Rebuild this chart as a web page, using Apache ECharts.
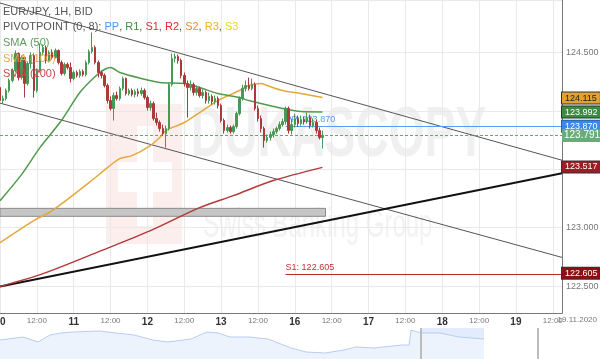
<!DOCTYPE html>
<html><head><meta charset="utf-8">
<script src="https://cdn.jsdelivr.net/npm/echarts@6/dist/echarts.min.js"></script>
<style>html,body{margin:0;padding:0;background:#fff}#c{width:600px;height:359px}</style>
</head><body><div id="c"></div>
<script>
// ---- tick labels ----
const DAYS = ['10','11','12','13','16','17','18','19'];
const HALF_DAY_LABEL = '12:00';
const DATE_LABEL = '19.11.2020';
const HOURS_SHOWN = 184;

// ---- hourly candles (EUR/JPY 1H) ----
const OPEN = [124.201,124.089,124.106,124.175,124.261,124.346,124.492,124.286,124.458,124.235,
 124.406,124.475,124.175,124.346,124.501,124.544,124.432,124.501,124.458,124.518,
 124.415,124.321,124.398,124.372,124.278,124.329,124.304,124.338,124.312,124.415,
 124.509,124.544,124.415,124.329,124.304,124.218,124.089,124.021,124.132,124.106,
 124.192,124.278,124.149,124.175,124.141,124.166,124.149,124.175,124.115,124.029,
 124.063,123.935,123.901,123.849,123.806,123.849,124.226,124.449,124.466,124.432,
 124.304,124.235,124.201,124.226,124.158,124.192,124.132,124.158,124.089,124.124,
 124.081,124.106,124.046,123.918,123.832,123.858,123.823,123.866,123.978,124.106,
 124.192,124.218,124.192,124.226,124.021,123.935,123.849,123.746,123.772,123.798,
 123.823,123.849,123.883,123.909,124.021,123.832,123.883,123.935,123.892,123.926,
 123.909,123.943,123.875,123.901,123.832,123.772];
const CLOSE = [124.089,124.106,124.175,124.261,124.346,124.492,124.286,124.458,124.235,124.406,
 124.475,124.175,124.346,124.501,124.544,124.432,124.501,124.458,124.518,124.415,
 124.321,124.398,124.372,124.278,124.329,124.304,124.338,124.312,124.415,124.509,
 124.544,124.415,124.329,124.304,124.218,124.089,124.021,124.132,124.106,124.192,
 124.278,124.149,124.175,124.141,124.166,124.149,124.175,124.115,124.029,124.063,
 123.935,123.901,123.849,123.806,123.849,124.226,124.449,124.466,124.432,124.304,
 124.235,124.201,124.226,124.158,124.192,124.132,124.158,124.089,124.124,124.081,
 124.106,124.046,123.918,123.832,123.858,123.823,123.866,123.978,124.106,124.192,
 124.218,124.192,124.226,124.021,123.935,123.849,123.746,123.772,123.798,123.823,
 123.849,123.883,123.909,124.021,123.832,123.883,123.935,123.892,123.926,123.909,
 123.943,123.875,123.901,123.832,123.772,123.791];
const LOW = [124.029,124.063,124.089,124.158,124.244,124.329,124.261,124.269,124.115,124.218,
 124.364,124.115,124.158,124.329,124.475,124.406,124.415,124.441,124.449,124.398,
 124.304,124.304,124.355,124.244,124.261,124.286,124.286,124.295,124.295,124.398,
 124.492,124.398,124.286,124.278,124.201,124.063,124.003,123.918,124.089,124.089,
 124.175,124.132,124.132,124.124,124.115,124.124,124.132,124.098,124.003,124.003,
 123.918,123.875,123.823,123.789,123.686,123.832,124.209,124.415,124.406,124.278,
 124.209,123.943,124.175,124.132,124.132,124.115,124.106,124.063,124.063,124.055,
 124.055,124.021,123.901,123.806,123.815,123.806,123.806,123.849,123.961,124.089,
 124.166,124.175,124.175,124.003,123.909,123.815,123.686,123.729,123.746,123.772,
 123.806,123.832,123.866,123.883,123.806,123.798,123.858,123.866,123.875,123.883,
 123.892,123.849,123.858,123.806,123.755,123.678];
const HIGH = [124.218,124.132,124.192,124.278,124.364,124.518,124.501,124.475,124.466,124.424,
 124.501,124.492,124.364,124.578,124.569,124.561,124.518,124.527,124.535,124.527,
 124.432,124.415,124.415,124.415,124.346,124.346,124.355,124.355,124.432,124.527,
 124.672,124.561,124.432,124.346,124.321,124.235,124.124,124.158,124.166,124.209,
 124.295,124.286,124.192,124.192,124.184,124.192,124.201,124.192,124.132,124.089,
 124.081,123.986,123.918,123.883,123.875,124.244,124.492,124.492,124.484,124.449,
 124.329,124.261,124.261,124.244,124.218,124.209,124.184,124.175,124.158,124.141,
 124.132,124.124,124.063,123.935,123.883,123.875,123.883,123.995,124.124,124.226,
 124.261,124.286,124.278,124.244,124.046,123.961,123.866,123.798,123.823,123.849,
 123.866,123.909,123.935,124.038,124.038,123.935,123.978,123.961,123.961,123.952,
 123.986,123.969,123.935,123.926,123.858,123.832];

// ---- moving averages (hour index, value) ----
const SMA50_H = [0,7,13,20,26,31,34,36,39,46,52,60,65,71,78,81,92,98,105];
const SMA50_V = [123.232,123.455,123.686,123.918,124.158,124.295,124.355,124.372,124.329,124.278,124.244,124.235,124.201,124.149,124.115,124.089,124.021,123.995,123.992];
const SMA100_H = [0,11,17,29,35,39,43,49,52,54,60,65,71,78,81,85,87,92,98,105];
const SMA100_V = [122.872,123.061,123.146,123.386,123.515,123.592,123.618,123.704,123.772,123.832,123.901,123.986,124.089,124.175,124.218,124.235,124.218,124.175,124.149,124.115];
const SMA200_H = [0,14,33,49,65,76,89,105];
const SMA200_V = [122.497,122.607,122.804,122.975,123.172,123.275,123.404,123.517];

// ---- drawn trend lines (hour index, value) ----
const CHANNEL_TOP = [[0,124.924],[183,123.578]];
const CHANNEL_BOTTOM = [[0,124.067],[183,122.746]];
const SUPPORT_TREND = [[0,122.497],[183,123.466]];
const ZONE = {from: 0, to: 106, high: 123.166, low: 123.098};

// ---- pivot levels & price badges ----
const PIVOT_START = 93;
const PP = 123.870, S1 = 122.605;
const LAST_PRICE = 123.791;
const SMA50_LAST = 123.992, SMA100_LAST = 124.115, SMA200_LAST = 123.517;

// ---- navigator (relative level over time) ----
const NAV_T = [0,23,38,50,61,73,100,107,134,153,168,191,207,218,230,249,268,291,306,325,344,356,375,383,402,409,411,421,440,459,484];
const NAV_V = [19,22,17,24,26,27,28,27,24,19,17,20,27,26,22,22,20,11,7,6,9,12,11,12,14,14,29,26,26,22,20];
const NAV_WINDOW = [421, 484];
const NAV_HANDLES = [421, 538];

// build categories
const cats = [];
for (let i = 0; i < HOURS_SHOWN; i++) {
  const d = DAYS[Math.floor(i / 24)], h = i % 24;
  cats.push(d + ' ' + String(h).padStart(2,'0') + ':00');
}
const candles = OPEN.map((o, i) => [o, CLOSE[i], LOW[i], HIGH[i]]);
const pairs = (h, v) => h.map((x, i) => [x, v[i]]);
const FONT = 'Liberation Sans';

const badge = (v, bg, fg, border, size) => ({
  yAxis: v,
  lineStyle: {width: 0, color: 'transparent'},
  label: {show: true, position: 'end', distance: 0, formatter: v.toFixed(3),
    backgroundColor: bg, color: fg, borderColor: border || bg, borderWidth: border ? 1 : 0,
    padding: size ? [1, 1, 0, 2] : [1, 3, 0, 3], fontSize: size || 9, fontFamily: FONT, lineHeight: size ? 12 : 10}
});

const chart = echarts.init(document.getElementById('c'), null, {renderer: 'canvas'});
chart.setOption({
  animation: false,
  backgroundColor: '#fff',
  grid: [
    {left: 0, top: 0, width: 562, height: 313, show: false, containLabel: false, outerBoundsMode: 'none'},
    {left: 0, top: 328, width: 600, height: 31, show: false, containLabel: false, outerBoundsMode: 'none'}
  ],
  xAxis: [{
    type: 'category', data: cats, boundaryGap: false, gridIndex: 0,
    axisLine: {show: true, lineStyle: {color: '#777', width: 1}},
    axisTick: {show: false},
    splitLine: {show: true, interval: (i) => i % 12 === 0, lineStyle: {color: '#e9e9e9', width: 1}},
    axisLabel: {
      interval: (i) => i % 12 === 0, margin: 4, fontFamily: FONT, hideOverlap: false,
      formatter: (v) => { const p = v.split(' '); return p[1] === '00:00' ? '{d|' + p[0] + '}' : '{h|' + HALF_DAY_LABEL + '}'; },
      rich: {d: {fontSize: 10, fontWeight: 'bold', color: '#333', fontFamily: FONT},
             h: {fontSize: 8, color: '#777', fontFamily: FONT}}
    }
  }, {
    type: 'value', gridIndex: 1, min: 0, max: 600, show: false
  }],
  yAxis: [{
    type: 'value', position: 'right', gridIndex: 0, min: 122.27, max: 124.95, splitNumber: 5,
    axisLine: {show: true, lineStyle: {color: '#777'}},
    axisTick: {show: false},
    splitLine: {show: true, lineStyle: {color: '#e9e9e9'}},
    axisLabel: {showMinLabel: false, showMaxLabel: false, margin: 4, fontSize: 9, color: '#777', fontFamily: FONT,
      formatter: (v) => v.toFixed(3)}
  }, {
    type: 'value', gridIndex: 1, min: 0, max: 31, show: false
  }],
  graphic: [
    {type: 'rect', z: 0, silent: true, shape: {x: 106, y: 104, width: 76, height: 140}, style: {fill: '#fdeeee'}},
    {type: 'rect', z: 0, silent: true, shape: {x: 137, y: 126, width: 16, height: 100}, style: {fill: '#ffffff'}},
    {type: 'rect', z: 0, silent: true, shape: {x: 118, y: 162, width: 54, height: 30}, style: {fill: '#ffffff'}},
    {type: 'text', z: 0, silent: true, x: 191, y: 172, scaleX: 0.66,
      style: {text: 'DUKASCOPY', font: 'bold 70px "Liberation Sans"', fill: '#f0f0f0', textVerticalAlign: 'bottom'}},
    {type: 'text', z: 0, silent: true, x: 203, y: 246, scaleX: 0.6,
      style: {text: 'Swiss Banking Group', font: '40px "Liberation Sans"', fill: '#f2f2f2', textVerticalAlign: 'bottom'}},
    {type: 'text', z: 50, left: 3, top: 6, style: {text: 'EUR/JPY, 1H, BID', font: '11px "Liberation Sans"', fill: '#555'}},
    {type: 'text', z: 50, left: 3, top: 21, style: {
      text: '{g|PIVOTPOINT (0, 8): }{pp|PP}{g|, }{r1|R1}{g|, }{s1|S1}{g|, }{r2|R2}{g|, }{s2|S2}{g|, }{r3|R3}{g|, }{s3|S3}',
      font: '11px "Liberation Sans"',
      rich: {g: {fill: '#555', fontSize: 11, fontFamily: FONT}, pp: {fill: '#4f95f5', fontSize: 11, fontFamily: FONT},
        r1: {fill: '#3f8f3f', fontSize: 11, fontFamily: FONT}, s1: {fill: '#cc3333', fontSize: 11, fontFamily: FONT},
        r2: {fill: '#e02828', fontSize: 11, fontFamily: FONT}, s2: {fill: '#f08a30', fontSize: 11, fontFamily: FONT},
        r3: {fill: '#f0b020', fontSize: 11, fontFamily: FONT}, s3: {fill: '#e8d820', fontSize: 11, fontFamily: FONT}}}},
    {type: 'text', z: 50, left: 3, top: 37, style: {text: 'SMA (50)', font: '11px "Liberation Sans"', fill: '#5a9e5a'}},
    {type: 'text', z: 50, left: 3, top: 53, style: {text: 'SMA (100)', font: '11px "Liberation Sans"', fill: '#e4aa45'}},
    {type: 'text', z: 50, left: 3, top: 68, style: {text: 'SMA (200)', font: '11px "Liberation Sans"', fill: '#c24a4a'}},
    {type: 'text', z: 50, right: 3, top: 316, style: {text: DATE_LABEL, font: '8px "Liberation Sans"', fill: '#777'}}
  ],
  series: [
    {
      type: 'line', xAxisIndex: 0, yAxisIndex: 0, data: [[ZONE.from, ZONE.high], [ZONE.to, ZONE.high]],
      symbol: 'none', lineStyle: {width: 0}, silent: true, z: 1,
      markArea: {silent: true, itemStyle: {color: '#c6c6c6', borderColor: '#8a8a8a', borderWidth: 1},
        data: [[{coord: [ZONE.from, ZONE.high]}, {coord: [ZONE.to, ZONE.low]}]]}
    },
    {type: 'line', data: CHANNEL_TOP, symbol: 'none', silent: true, lineStyle: {color: '#555', width: 1}, z: 3},
    {type: 'line', data: CHANNEL_BOTTOM, symbol: 'none', silent: true, lineStyle: {color: '#555', width: 1}, z: 3},
    {type: 'line', data: SUPPORT_TREND, symbol: 'none', silent: true, lineStyle: {color: '#111', width: 2}, z: 3},
    {type: 'line', data: pairs(SMA200_H, SMA200_V), symbol: 'none', smooth: 0.3, silent: true, lineStyle: {color: '#b33a3a', width: 1.5}, z: 4},
    {type: 'line', data: pairs(SMA100_H, SMA100_V), symbol: 'none', smooth: 0.3, silent: true, lineStyle: {color: '#e6a73a', width: 1.5}, z: 4},
    {type: 'line', data: pairs(SMA50_H, SMA50_V), symbol: 'none', smooth: 0.3, silent: true, lineStyle: {color: '#4f9a4f', width: 1.5}, z: 4},
    {
      type: 'candlestick', data: candles, barWidth: 2, z: 5,
      itemStyle: {color: '#469a55', color0: '#ad3a3a', borderColor: '#469a55', borderColor0: '#ad3a3a', borderWidth: 1},
      markLine: {
        symbol: 'none', silent: true, animation: false,
        data: [
          [{coord: [0, LAST_PRICE], lineStyle: {color: '#5aae6a', type: [3, 2], width: 1}, label: {show: false}}, {coord: [HOURS_SHOWN - 1, LAST_PRICE]}],
          [{coord: [PIVOT_START, PP], lineStyle: {color: '#5b9bf5', type: 'solid', width: 1},
            label: {show: true, position: 'insideStartTop', distance: [0, 2], formatter: 'PP: ' + PP.toFixed(3), color: '#5b9bf5', fontSize: 9, fontFamily: FONT}},
           {coord: [HOURS_SHOWN - 1, PP]}],
          [{coord: [PIVOT_START, S1], lineStyle: {color: '#b02a2a', type: 'solid', width: 1},
            label: {show: true, position: 'insideStartTop', distance: [0, 2], formatter: 'S1: ' + S1.toFixed(3), color: '#c03030', fontSize: 9, fontFamily: FONT}},
           {coord: [HOURS_SHOWN - 1, S1]}],
          badge(SMA100_LAST, '#e2a230', '#222', '#333'),
          badge(SMA50_LAST, '#3d8a42', '#fff', '#1e3e1e'),
          badge(PP, '#3c86f0', '#fff', '#2a5fb0'),
          badge(LAST_PRICE, '#6aab7b', '#fff', null, 10),
          badge(SMA200_LAST, '#9a1e24', '#fff', '#333'),
          badge(S1, '#8e0f12', '#fff', '#333')
        ]
      }
    },
    {
      type: 'line', xAxisIndex: 1, yAxisIndex: 1, data: pairs(NAV_T, NAV_V), symbol: 'none', silent: true,
      lineStyle: {color: '#b7cdf2', width: 1}, areaStyle: {color: '#edf3fd', opacity: 1},
      markArea: {silent: true, itemStyle: {color: 'rgba(190,212,248,0.45)'}, data: [[{xAxis: NAV_WINDOW[0]}, {xAxis: NAV_WINDOW[1]}]]},
      markLine: {silent: true, symbol: 'none', label: {show: false}, lineStyle: {color: '#bbb', width: 2, type: 'solid'},
        data: NAV_HANDLES.map(v => ({xAxis: v}))}
    }
  ]
});
</script>
</body></html>
